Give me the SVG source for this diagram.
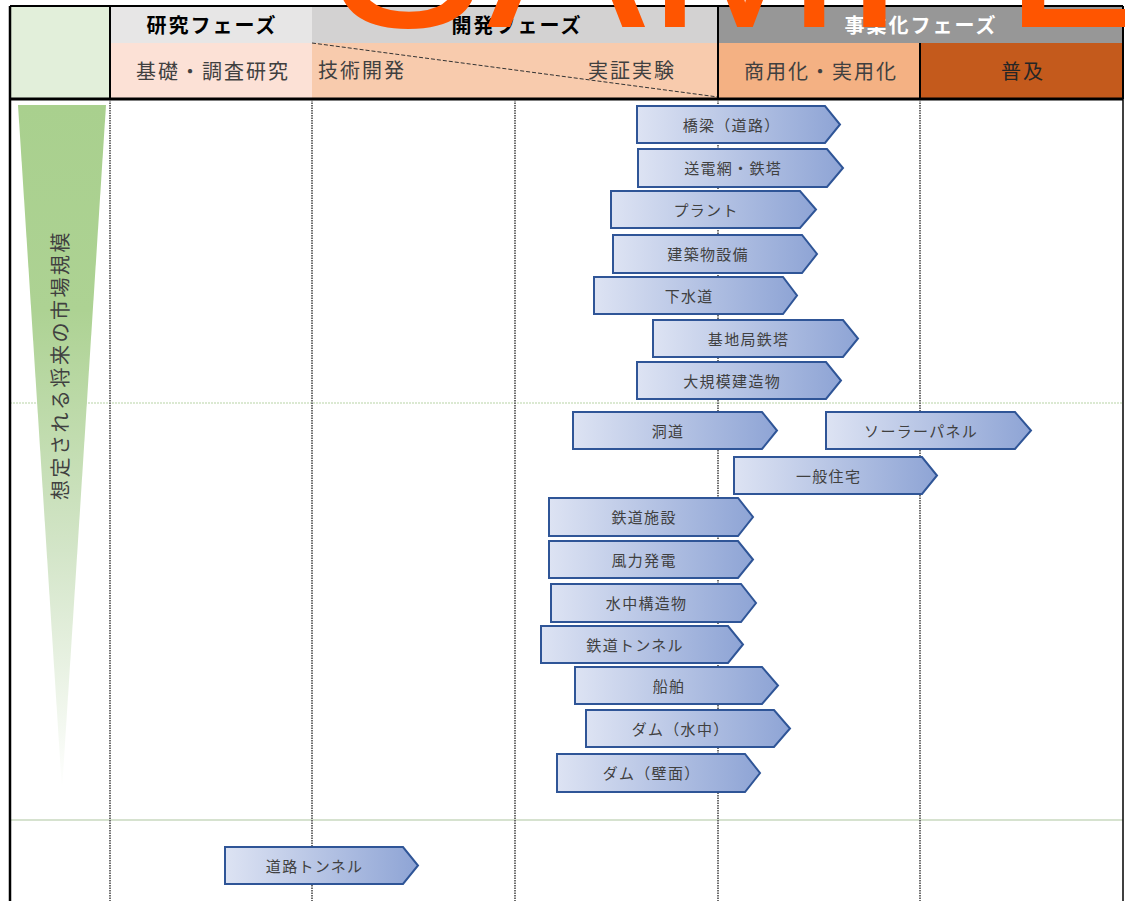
<svg xmlns="http://www.w3.org/2000/svg" width="1125" height="901" viewBox="0 0 1125 901">
<style>
.jp{font-family:"Noto Sans CJK JP","Noto Sans CJK SC",sans-serif;}
.hd{font-size:20px;font-weight:bold;letter-spacing:2px;text-anchor:middle;dominant-baseline:central;}
.sub{font-size:20px;fill:#404040;letter-spacing:2px;dominant-baseline:central;}
.lbl{font-size:15px;fill:#404040;letter-spacing:1.3px;text-anchor:middle;dominant-baseline:central;}
.arr{fill:url(#ag);stroke:#2F5597;stroke-width:2;stroke-linejoin:miter;}
.vg{stroke:#6e6e6e;stroke-width:2;stroke-dasharray:1.5 1;}
</style>
<defs>
<linearGradient id="ag" x1="0" y1="0" x2="1" y2="0">
<stop offset="0" stop-color="#DDE3F3"/>
<stop offset="1" stop-color="#8EA4D5"/>
</linearGradient>
<linearGradient id="tg" x1="0" y1="0" x2="0" y2="1">
<stop offset="0" stop-color="#A9D08E"/>
<stop offset="0.3" stop-color="#ADD293"/>
<stop offset="0.65" stop-color="#D3E5C8"/>
<stop offset="1" stop-color="#FFFFFF"/>
</linearGradient>
</defs>
<rect x="0" y="0" width="1125" height="901" fill="#FFFFFF"/>

<g id="header">
<rect x="10" y="6" width="100" height="93" fill="#E2EFDA"/>
<rect x="110" y="6" width="202" height="37" fill="#E7E6E6"/>
<rect x="312" y="6" width="406" height="37" fill="#D3D2D2"/>
<rect x="718" y="6" width="405" height="37" fill="#979797"/>
<rect x="110" y="43" width="202" height="56" fill="#FCE1D6"/>
<rect x="312" y="43" width="406" height="56" fill="#F8CBAD"/>
<rect x="718" y="43" width="202" height="56" fill="#F4B183"/>
<rect x="920" y="43" width="203" height="56" fill="#C45A1C"/>
<line x1="312" y1="43" x2="718" y2="97" stroke="#333" stroke-width="1" stroke-dasharray="4 2"/>
<text class="jp hd" x="212" y="24" fill="#000">研究フェーズ</text>
<text class="jp hd" x="517" y="24" fill="#000">開発フェーズ</text>
<text class="jp hd" x="921" y="24" fill="#FFFFFF">事業化フェーズ</text>
<text class="jp sub" x="213" y="70" text-anchor="middle">基礎・調査研究</text>
<text class="jp sub" x="318" y="69">技術開発</text>
<text class="jp sub" x="588" y="69">実証実験</text>
<text class="jp sub" x="821" y="70" text-anchor="middle">商用化・実用化</text>
<text class="jp sub" x="1023" y="70" text-anchor="middle" style="fill:#262626">普及</text>
<g stroke="#000" stroke-width="2" fill="none">
<line x1="10" y1="6" x2="1123" y2="6"/>
<line x1="110" y1="6" x2="110" y2="99"/>
<line x1="718" y1="6" x2="718" y2="99"/>
<line x1="920" y1="43" x2="920" y2="99"/>
<line x1="1123" y1="6" x2="1123" y2="99"/>
<line x1="10" y1="99" x2="1123" y2="99" stroke-width="3"/>
</g>
</g>

<g id="grid">
<line x1="10" y1="403" x2="1123" y2="403" stroke="#B7D3A5" stroke-width="1" stroke-dasharray="2 1"/>
<line x1="10" y1="820" x2="1123" y2="820" stroke="#C9D8BF" stroke-width="1.5"/>
<line class="vg" x1="110" y1="100" x2="110" y2="901"/>
<line class="vg" x1="312" y1="100" x2="312" y2="901"/>
<line class="vg" x1="515" y1="100" x2="515" y2="901"/>
<line class="vg" x1="718" y1="100" x2="718" y2="901"/>
<line class="vg" x1="920" y1="100" x2="920" y2="901"/>
<line x1="1123" y1="99" x2="1123" y2="901" stroke="#000" stroke-width="1.5"/>
<line x1="10" y1="6" x2="10" y2="901" stroke="#000" stroke-width="2.5"/>
</g>

<g id="market-scale">
<polygon points="18,105 106,105 62,790" fill="url(#tg)"/>
<text class="jp" x="0" y="0" transform="translate(59,365) rotate(-90)" font-size="20" fill="#404040" letter-spacing="2.5" text-anchor="middle" dominant-baseline="central">想定される将来の市場規模</text>
</g>

<g id="connectors"></g>

<g id="n1"><polygon class="arr" points="637,106 825,106 840,124.5 825,143 637,143"/><text class="jp lbl" x="731.6" y="124">橋梁（道路）</text></g>
<g id="n2"><polygon class="arr" points="638,149 827,149 843,168 827,187 638,187"/><text class="jp lbl" x="733.1" y="167.5">送電網・鉄塔</text></g>
<g id="n3"><polygon class="arr" points="611,191 800,191 816,209.5 800,228 611,228"/><text class="jp lbl" x="706.1" y="209">プラント</text></g>
<g id="n4"><polygon class="arr" points="613,235 802,235 817,254 802,273 613,273"/><text class="jp lbl" x="708.1" y="253.5">建築物設備</text></g>
<g id="n5"><polygon class="arr" points="594,277 783,277 797,295.5 783,314 594,314"/><text class="jp lbl" x="689.1" y="295">下水道</text></g>
<g id="n6"><polygon class="arr" points="653,320 843,320 858,338.5 843,357 653,357"/><text class="jp lbl" x="748.6" y="338">基地局鉄塔</text></g>
<g id="n7"><polygon class="arr" points="637,362 826,362 841,380.5 826,399 637,399"/><text class="jp lbl" x="732.1" y="380">大規模建造物</text></g>
<g id="n8"><polygon class="arr" points="573,412 762,412 777,430.5 762,449 573,449"/><text class="jp lbl" x="668.1" y="430">洞道</text></g>
<g id="n9"><polygon class="arr" points="826,412 1015,412 1031,430.5 1015,449 826,449"/><text class="jp lbl" x="921.1" y="430">ソーラーパネル</text></g>
<g id="n10"><polygon class="arr" points="734,457 922,457 937,475.5 922,494 734,494"/><text class="jp lbl" x="828.6" y="475">一般住宅</text></g>
<g id="n11"><polygon class="arr" points="549,498 738,498 753,517 738,536 549,536"/><text class="jp lbl" x="644.1" y="516.5">鉄道施設</text></g>
<g id="n12"><polygon class="arr" points="549,541 738,541 753,559.5 738,578 549,578"/><text class="jp lbl" x="644.1" y="559">風力発電</text></g>
<g id="n13"><polygon class="arr" points="551,584 741,584 756,603 741,622 551,622"/><text class="jp lbl" x="646.6" y="602.5">水中構造物</text></g>
<g id="n14"><polygon class="arr" points="541,626 728,626 743,644.5 728,663 541,663"/><text class="jp lbl" x="635.1" y="644">鉄道トンネル</text></g>
<g id="n15"><polygon class="arr" points="575,667 762,667 778,685.5 762,704 575,704"/><text class="jp lbl" x="669.1" y="685">船舶</text></g>
<g id="n16"><polygon class="arr" points="586,710 774,710 790,728.5 774,747 586,747"/><text class="jp lbl" x="680.6" y="728">ダム（水中）</text></g>
<g id="n17"><polygon class="arr" points="557,754 745,754 760,773 745,792 557,792"/><text class="jp lbl" x="651.6" y="772.5">ダム（壁面）</text></g>
<g id="n18"><polygon class="arr" points="225,847 403,847 418,865.5 403,884 225,884"/><text class="jp lbl" x="314.6" y="865">道路トンネル</text></g>

<text x="328" y="27" font-family="Liberation Sans, Arial, sans-serif" font-size="238" fill="#FF5500">SAMPLE</text>
</svg>
